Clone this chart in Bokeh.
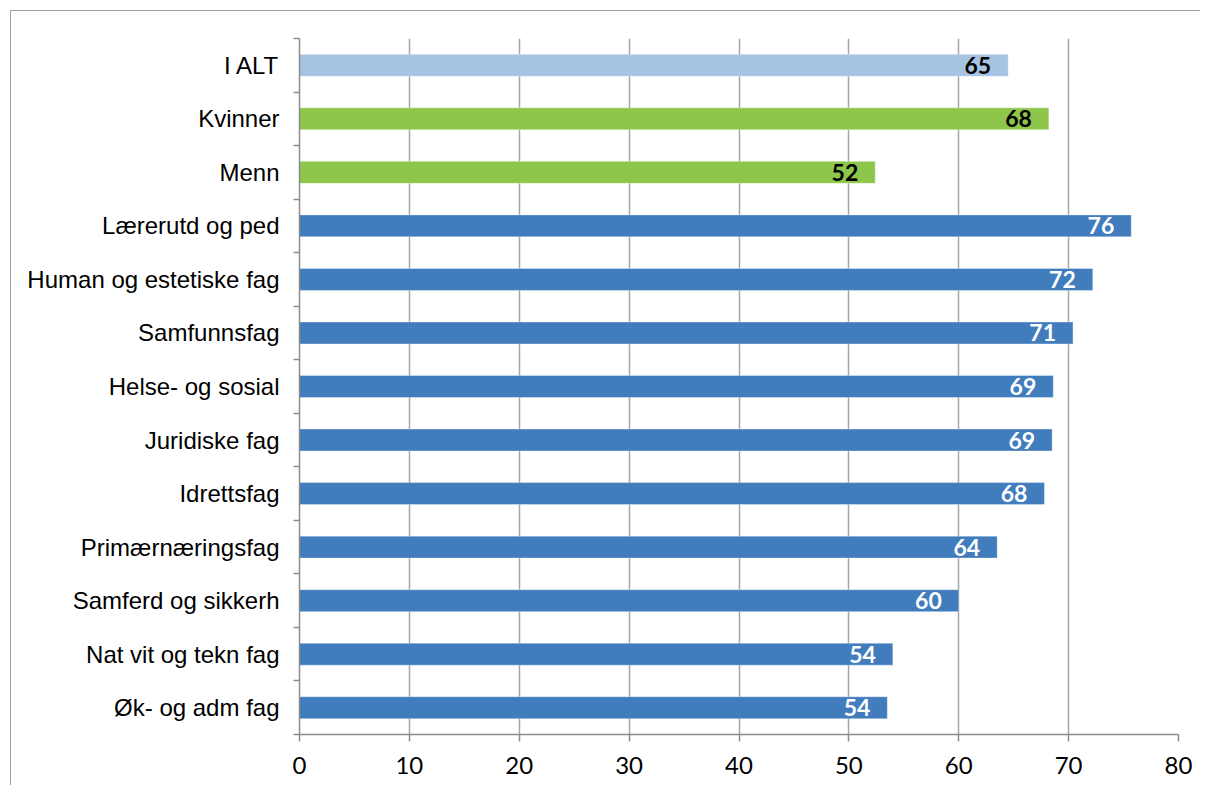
from bokeh.plotting import figure
from bokeh.models import ColumnDataSource, FixedTicker, Range1d
from bokeh.core.properties import value
from bokeh.embed import file_html
from bokeh.resources import INLINE

categories = ["I ALT", "Kvinner", "Menn", "Lærerutd og ped", "Human og estetiske fag",
              "Samfunnsfag", "Helse- og sosial", "Juridiske fag", "Idrettsfag",
              "Primærnæringsfag", "Samferd og sikkerh", "Nat vit og tekn fag", "Øk- og adm fag"]
values = [64.5, 68.2, 52.4, 75.7, 72.2, 70.4, 68.6, 68.5, 67.8, 63.5, 60.0, 54.0, 53.5]
labels = ["65", "68", "52", "76", "72", "71", "69", "69", "68", "64", "60", "54", "54"]
groups = ["total", "gender", "gender"] + ["field"] * 10
x_ticks = [0, 10, 20, 30, 40, 50, 60, 70, 80]

bar_colors = {"total": "#a7c3e2", "gender": "#8dc64b", "field": "#417cbd"}
text_colors = {"total": "#000000", "gender": "#000000", "field": "#ffffff"}

ys = list(range(len(categories)))
src = ColumnDataSource(dict(
    y=ys, v=values, lab=labels,
    color=[bar_colors[g] for g in groups],
    tcolor=[text_colors[g] for g in groups],
))

p = figure(width=1190, height=775, output_backend="svg", toolbar_location=None,
           x_range=Range1d(0, 80), y_range=Range1d(len(categories) - 0.5, -0.5),
           min_border_left=288, min_border_right=23, min_border_top=27, min_border_bottom=52)
p.styles = {"border-left": "1px solid #a0a0a0", "border-top": "1px solid #a0a0a0",
            "margin-left": "10px", "margin-top": "10px"}
p.outline_line_color = None

p.hbar(y="y", right="v", left=0, height=0.41, fill_color="color",
       line_color="#ffffff", line_alpha=0.35, line_width=1, source=src)
p.text(x="v", y="y", text="lab", text_color="tcolor", source=src,
       text_align="right", text_baseline="middle", x_offset=-17,
       text_font=value("Lato"), text_font_style="bold", text_font_size="23px")

# x axis
p.xaxis.ticker = FixedTicker(ticks=x_ticks)
p.xaxis.axis_line_color = "#8c8c8c"
p.xaxis.axis_line_width = 1.5
p.xaxis.major_tick_line_color = "#8c8c8c"
p.xaxis.major_tick_line_width = 1.5
p.xaxis.major_tick_out = 7
p.xaxis.major_tick_in = 0
p.xaxis.minor_tick_line_color = None
p.xaxis.major_label_standoff = 15
p.xaxis.major_label_text_font = "Lato"
p.xaxis.major_label_text_font_size = "24px"
p.xaxis.major_label_text_color = "#000000"

# y axis
p.yaxis.ticker = FixedTicker(ticks=ys, minor_ticks=[i - 0.5 for i in range(len(categories) + 1)])
p.yaxis.major_label_overrides = {i: c for i, c in zip(ys, categories)}
p.yaxis.axis_line_color = "#8c8c8c"
p.yaxis.axis_line_width = 1.5
p.yaxis.major_tick_line_color = None
p.yaxis.major_tick_out = 0
p.yaxis.major_tick_in = 0
p.yaxis.minor_tick_line_color = "#8c8c8c"
p.yaxis.minor_tick_line_width = 1.5
p.yaxis.minor_tick_out = 6
p.yaxis.minor_tick_in = 0
p.yaxis.major_label_standoff = 14
p.yaxis.major_label_text_font = "Liberation Sans"
p.yaxis.major_label_text_font_size = "24px"
p.yaxis.major_label_text_color = "#000000"

p.xgrid.ticker = FixedTicker(ticks=x_ticks)
p.xgrid.grid_line_color = "#a6a6a6"
p.xgrid.grid_line_width = 1.5
p.ygrid.grid_line_color = None

open("out.html", "w").write(file_html(p, INLINE))
